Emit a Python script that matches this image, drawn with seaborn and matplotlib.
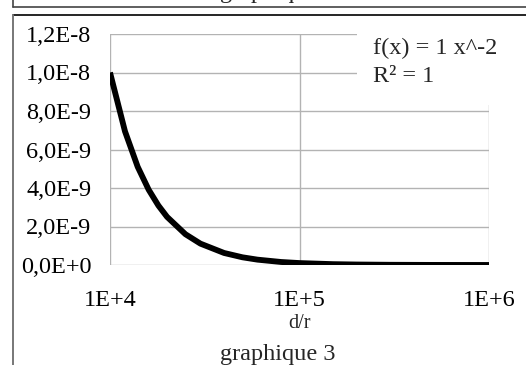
import matplotlib
matplotlib.use("Agg")
import matplotlib.pyplot as plt
import seaborn as sns
import pandas as pd
from matplotlib.lines import Line2D
from matplotlib.patches import Rectangle

# ---- data ----
x_vals = [1e4, 1.2e4, 1.4e4, 1.6e4, 1.8e4, 2e4, 2.5e4, 3e4, 4e4, 5e4, 6e4,
          8e4, 1e5, 1.5e5, 2e5, 3e5, 5e5, 1e6]
y_vals = [1.0e-8, 6.94e-9, 5.10e-9, 3.91e-9, 3.09e-9, 2.5e-9, 1.6e-9, 1.11e-9,
          6.25e-10, 4.0e-10, 2.78e-10, 1.56e-10, 1.0e-10, 4.4e-11, 2.5e-11,
          1.1e-11, 4e-12, 1e-12]
x_ticks = [1e4, 1e5, 1e6]
x_ticklabels = ["1E+4", "1E+5", "1E+6"]
y_ticks = [0, 2e-9, 4e-9, 6e-9, 8e-9, 1.0e-8, 1.2e-8]
y_ticklabels = ["0,0E+0", "2,0E-9", "4,0E-9", "6,0E-9", "8,0E-9", "1,0E-8", "1,2E-8"]
x_label = "d/r"
title = "graphique 3"
prev_title = "graphique 2"
eq_lines = ["f(x) = 1 x^-2", "R² = 1"]

sns.set_style("white")
plt.rcParams["font.family"] = ["Liberation Serif", "DejaVu Serif"]
FS = 17.5
W, H = 526, 365
fig = plt.figure(figsize=(W / 100, H / 100), dpi=100)
L, R, T, B = 110, 489, 34, 265
ax = fig.add_axes([L / W, 1 - B / H, (R - L) / W, (B - T) / H])

df = pd.DataFrame({"x": x_vals, "y": y_vals})
sns.lineplot(data=df, x="x", y="y", ax=ax, color="black", linewidth=4.2,
             solid_capstyle="butt", solid_joinstyle="round")
ax.set_xscale("log")
ax.set_xlim(1e4, 1e6)
ax.set_ylim(0, 1.2e-8)
ax.set_xticks(x_ticks)
ax.set_xticklabels(x_ticklabels)
ax.set_yticks(y_ticks)
ax.set_yticklabels(y_ticklabels)
ax.xaxis.set_minor_locator(matplotlib.ticker.NullLocator())
ax.grid(True, color="#b3b3b3", linewidth=1.0)
ax.set_axisbelow(True)
for s in ax.spines.values():
    s.set_visible(False)
ax.tick_params(axis="both", which="major", length=8.5, width=1.0, color="#b3b3b3",
               labelsize=FS, labelcolor="black", direction="out")
ax.tick_params(axis="y", pad=5)
ax.tick_params(axis="x", pad=9.5)
ax.set_xlabel(x_label, fontsize=14.5, labelpad=0)
ax.set_ylabel("")
ax.xaxis.set_label_coords(0.5, -58 / (B - T))
ax.xaxis.label.set_verticalalignment("center")

# white box behind equation text
fig.add_artist(Rectangle((357 / W, 1 - 105 / H), (W - 357) / W, 87 / H,
                         transform=fig.transFigure, facecolor="white",
                         edgecolor="none", zorder=2))
fig.text(373 / W, 1 - 48 / H, eq_lines[0], fontsize=FS, va="center", ha="left", zorder=3)
fig.text(373 / W, 1 - 76 / H, eq_lines[1], fontsize=FS, va="center", ha="left", zorder=3)

# titles
fig.text(278 / W, 5 / H, title, fontsize=FS, ha="center", va="baseline")
fig.text(278 / W, 1 + 2 / H, prev_title, fontsize=FS, ha="center", va="baseline")

# frames
fig.add_artist(Line2D([13 / W, 1], [1 - 7 / H, 1 - 7 / H], transform=fig.transFigure,
                      color="#444444", linewidth=1.2))
fig.add_artist(Line2D([13 / W, 13 / W], [1, 1 - 7 / H], transform=fig.transFigure,
                      color="#444444", linewidth=1.2))
fig.add_artist(Line2D([13 / W, 1], [1 - 15 / H, 1 - 15 / H], transform=fig.transFigure,
                      color="black", linewidth=1.2))
fig.add_artist(Line2D([13 / W, 13 / W], [1 - 15 / H, 0], transform=fig.transFigure,
                      color="#777777", linewidth=1.4))

fig.savefig("out.png", dpi=100)
